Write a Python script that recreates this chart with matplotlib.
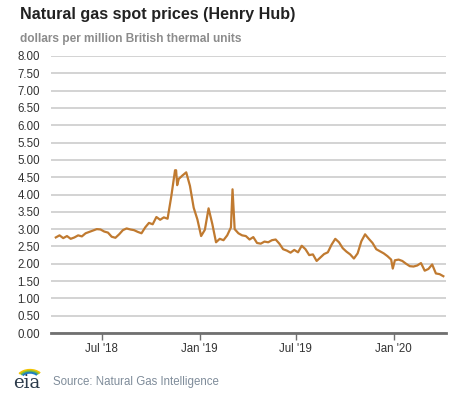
import pandas as pd
import matplotlib.pyplot as plt
from matplotlib.patches import Arc

# weekly Henry Hub spot prices (Fridays), plus a few single-day spikes
week_start = "2018-04-06"
weekly_prices = [
    2.76, 2.82, 2.74, 2.80, 2.72, 2.76, 2.82, 2.79, 2.88, 2.92,
    2.96, 3.00, 2.99, 2.93, 2.90, 2.78, 2.75, 2.85, 2.97, 3.02,
    2.99, 2.97, 2.92, 2.88, 3.05, 3.18, 3.14, 3.35, 3.27, 3.34,
    3.30, 3.95, 4.70, 4.45, 4.55, 4.64, 4.25, 3.62, 3.28, 2.80,
    2.98, 3.60, 3.15, 2.62, 2.72, 2.68, 2.82, 3.05, 3.00, 2.88,
    2.82, 2.80, 2.70, 2.77, 2.60, 2.58, 2.64, 2.62, 2.68, 2.70,
    2.58, 2.42, 2.38, 2.32, 2.40, 2.33, 2.52, 2.42, 2.25, 2.27,
    2.08, 2.18, 2.28, 2.33, 2.55, 2.72, 2.62, 2.45, 2.35, 2.27,
    2.15, 2.30, 2.65, 2.85, 2.72, 2.60, 2.42, 2.36, 2.30, 2.22,
    2.12, 2.10, 2.12, 2.08, 2.00, 1.93, 1.92, 1.95, 2.02, 1.80,
    1.85, 1.98, 1.72, 1.70, 1.64,
]
spike_dates = ["2018-11-18", "2018-11-20", "2019-03-04", "2019-12-30"]
spike_prices = [4.70, 4.27, 4.15, 1.86]

tick_dates = ["2018-07-01", "2019-01-01", "2019-07-01", "2020-01-01"]
tick_labels = ["Jul '18", "Jan '19", "Jul '19", "Jan '20"]
y_ticks = [i * 0.5 for i in range(17)]

weekly = pd.Series(weekly_prices,
                   index=pd.date_range(week_start, periods=len(weekly_prices), freq="7D"))
spikes = pd.Series(spike_prices, index=pd.to_datetime(spike_dates))
prices = pd.concat([weekly, spikes]).sort_index()

plt.rcParams["font.family"] = ["Liberation Sans", "DejaVu Sans"]

fig = plt.figure(figsize=(4.77, 3.93), dpi=100)
ax = fig.add_axes([51 / 477, 60 / 393, 395 / 477, 277 / 393])

ax.plot(prices.index, prices.values, color="#c07a30", linewidth=1.6)

ax.set_ylim(0, 8)
ax.set_yticks(y_ticks)
ax.set_yticklabels([f"{v:.2f}" for v in y_ticks])
ax.set_xlim(pd.Timestamp("2018-03-28"), pd.Timestamp("2020-04-08"))
ax.set_xticks(pd.to_datetime(tick_dates))
ax.set_xticklabels(tick_labels)

ax.grid(axis="y", color="#cccccc", linewidth=1.2)
ax.set_axisbelow(True)
for s in ["top", "right", "left"]:
    ax.spines[s].set_visible(False)
ax.spines["bottom"].set_color("#707070")
ax.spines["bottom"].set_linewidth(2)
ax.tick_params(axis="y", length=0, pad=8, labelsize=8.3, labelcolor="#333333")
ax.tick_params(axis="x", length=5, width=1, color="#707070", pad=2,
               labelsize=8.3, labelcolor="#333333")

fig.text(20 / 477, 1 - 15 / 393, "Natural gas spot prices (Henry Hub)",
         fontsize=11.6, fontweight="bold", color="#222222", va="center")
fig.text(20 / 477, 1 - 39 / 393, "dollars per million British thermal units",
         fontsize=8.6, fontweight="bold", color="#8c8c8c", va="center")
fig.text(53 / 477, 1 - 382 / 393, "Source: Natural Gas Intelligence",
         fontsize=8.3, color="#7f8c9a", va="center")

# eia logo
fig.text(13 / 477, 1 - 383 / 393, "eia", fontsize=13, color="#2b3a4a",
         va="center", family="DejaVu Serif")
for w, col in [(26, "#f2c300"), (22, "#7bbf3a"), (18, "#1f7fc0")]:
    arc = Arc((30 / 477, 1 - 379 / 393), w / 477, w * 0.7 / 393, theta1=35, theta2=150,
              transform=fig.transFigure, color=col, linewidth=1.5)
    fig.add_artist(arc)

fig.savefig("out.png", dpi=100)
